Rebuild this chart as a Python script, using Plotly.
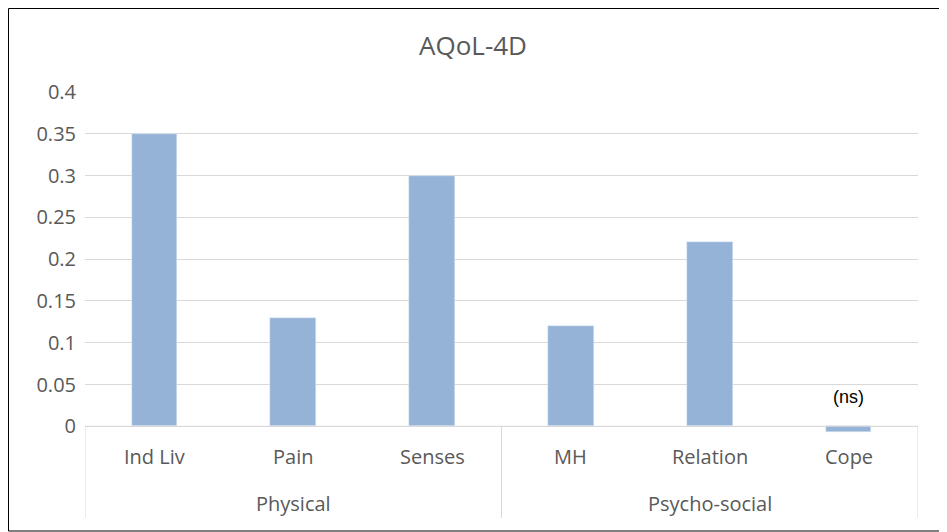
import plotly.graph_objects as go

categories = ["Ind Liv", "Pain", "Senses", "MH", "Relation", "Cope"]
values = [0.35, 0.13, 0.30, 0.12, 0.22, -0.007]
groups = ["Physical", "Psycho-social"]
group_spans = [(0, 2), (3, 5)]
tick_vals = [0, 0.05, 0.1, 0.15, 0.2, 0.25, 0.3, 0.35, 0.4]
tick_text = ["0", "0.05", "0.1", "0.15", "0.2", "0.25", "0.3", "0.35", "0.4"]

xs = list(range(len(categories)))
fig = go.Figure(go.Bar(x=xs, y=values, marker_color="#95B3D7", width=0.33))

font = "Open Sans, Liberation Sans, sans-serif"
grey = "#595959"
W, H = 939, 524
L, R, T, B = 77, 29, 84, 99
pw, ph = W - L - R, H - T - B

def px(xs_):  # figure-pixel x -> paper
    return (xs_ - L) / pw

def py(ys_):  # figure-pixel y (from top) -> paper
    return (H - B - ys_) / ph

ann = []
for i, c in enumerate(categories):
    ann.append(dict(x=i, y=0, xref="x", yref="y", text=c, showarrow=False,
                    yanchor="top", yshift=-15, font=dict(size=20, color=grey, family=font)))
for g, (a, b) in zip(groups, group_spans):
    ann.append(dict(x=(a + b) / 2, y=0, xref="x", yref="y", text=g, showarrow=False,
                    yanchor="top", yshift=-62, font=dict(size=20, color=grey, family=font)))
ann.append(dict(x=5, y=0.0345, xref="x", yref="y", text="(ns)", showarrow=False,
                font=dict(size=18, color="black", family="Liberation Sans, Arial")))

shapes = [dict(type="line", xref="x", yref="y", x0=-0.5, x1=5.5, y0=0, y1=0,
               line=dict(color="#D9D9D9", width=1))]
for xb in [-0.5, 2.5, 5.5]:
    shapes.append(dict(type="line", xref="x", yref="paper", x0=xb, x1=xb,
                       y0=py(418), y1=py(510), line=dict(color="#D9D9D9", width=1)))
shapes.append(dict(type="rect", xref="paper", yref="paper", x0=px(0.5), x1=px(938),
                   y0=py(523), y1=py(0.5), line=dict(color="black", width=1)))

fig.update_layout(
    width=W, height=H, paper_bgcolor="white", plot_bgcolor="white",
    margin=dict(l=L, r=R, t=T, b=B, autoexpand=False),
    title=dict(text="AQoL-4D", x=465 / W, xref="container", y=1 - 38 / H, yanchor="middle", xanchor="center",
               font=dict(size=26, color=grey, family=font)),
    xaxis=dict(range=[-0.5, 5.5], showticklabels=False, showgrid=False, zeroline=False,
               showline=False, fixedrange=True),
    yaxis=dict(range=[-0.008, 0.4], tickvals=tick_vals, ticktext=tick_text,
               showgrid=True, gridcolor="#D9D9D9", zeroline=False, showline=False,
               tickfont=dict(size=20, color=grey, family=font), ticks="", ticklabelstandoff=8),
    annotations=ann, shapes=shapes, showlegend=False, bargap=0,
)
fig.write_html("out.html")
